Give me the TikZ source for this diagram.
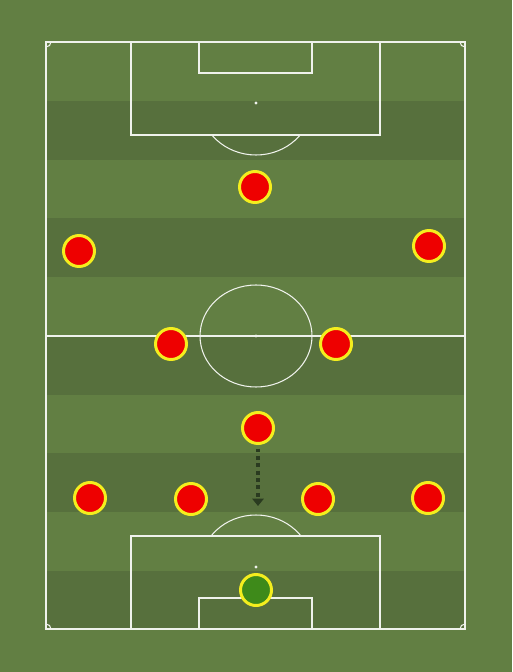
\documentclass[tikz,border=0pt]{standalone}
\usepackage{tikz}
\usepackage{xcolor}
\usetikzlibrary{arrows.meta}
\definecolor{grassLight}{HTML}{627F43}
\definecolor{grassDark}{HTML}{57703D}
\definecolor{shirtRed}{HTML}{EE0000}
\definecolor{shirtYellow}{HTML}{F4EE1E}
\definecolor{keeperGreen}{HTML}{3E8A1A}
\definecolor{runColor}{HTML}{2A3B20}
\newcommand\lineColor{white!90!grassLight}

\begin{document}
\begin{tikzpicture}[x=0.02cm, y=-0.02cm,
    pitchline/.style={draw=\lineColor, line width=0.6pt},
    player/.style={circle, fill=shirtRed, draw=shirtYellow, line width=1.7pt,
        minimum size=0.62cm, inner sep=0pt},
    keeper/.style={player, fill=keeperGreen}]
    % grass and stripes
    \fill[grassLight] (0,0) rectangle (512,672);
    \foreach \y in {101,218.4,335.8,453.2,570.6}
        \fill[grassDark] (46,\y) rectangle (465,\y+58.7);

    % pitch markings
    \draw[pitchline] (46,42) rectangle (465,629);
    \draw[pitchline] (46,336) -- (465,336);
    \draw[pitchline] (256,336) ellipse[x radius=56, y radius=51];
    \draw[pitchline] (131,42) rectangle (380,135);
    \draw[pitchline] (199,42) rectangle (312,73);
    \draw[pitchline] (131,629) rectangle (380,536);
    \draw[pitchline] (199,629) rectangle (312,598);
    \begin{scope}
        \clip (46,135) rectangle (465,200);
        \draw[pitchline] (256,103) ellipse[x radius=56, y radius=52];
    \end{scope}
    \begin{scope}
        \clip (46,470) rectangle (465,536);
        \draw[pitchline] (256,567) ellipse[x radius=56, y radius=52];
    \end{scope}
    \fill[\lineColor] (256,103) circle[radius=1.6];
    \fill[\lineColor] (256,336) circle[radius=1.6];
    \fill[\lineColor] (256,567) circle[radius=1.6];

    % corners
    \draw[pitchline] (51,42) arc[start angle=0, end angle=90, radius=5];
    \draw[pitchline] (465,47) arc[start angle=90, end angle=180, radius=5];
    \draw[pitchline] (46,624) arc[start angle=270, end angle=360, radius=5];
    \draw[pitchline] (460,629) arc[start angle=180, end angle=270, radius=5];

    % players
    \node[player] (st) at (255,187) {};
    \node[player] (lw) at (79,251) {};
    \node[player] (rw) at (429,246) {};
    \node[player] (lcm) at (171,344) {};
    \node[player] (rcm) at (336,344) {};
    \node[player] (dm) at (258,428) {};
    \node[player] (lb) at (90,498) {};
    \node[player] (lcb) at (191,499) {};
    \node[player] (rcb) at (318,499) {};
    \node[player] (rb) at (428,498) {};
    \node[keeper] (gk) at (256,590) {};

    % run of the holding midfielder
    \coordinate (dmrun) at (258,506);
    \draw[runColor, line width=2pt, dash pattern=on 2.2pt off 2pt,
        shorten <=2pt, -{Triangle[length=4.2pt, width=6.5pt]}] (dm.south) -- (dmrun);
\end{tikzpicture}
\end{document}
